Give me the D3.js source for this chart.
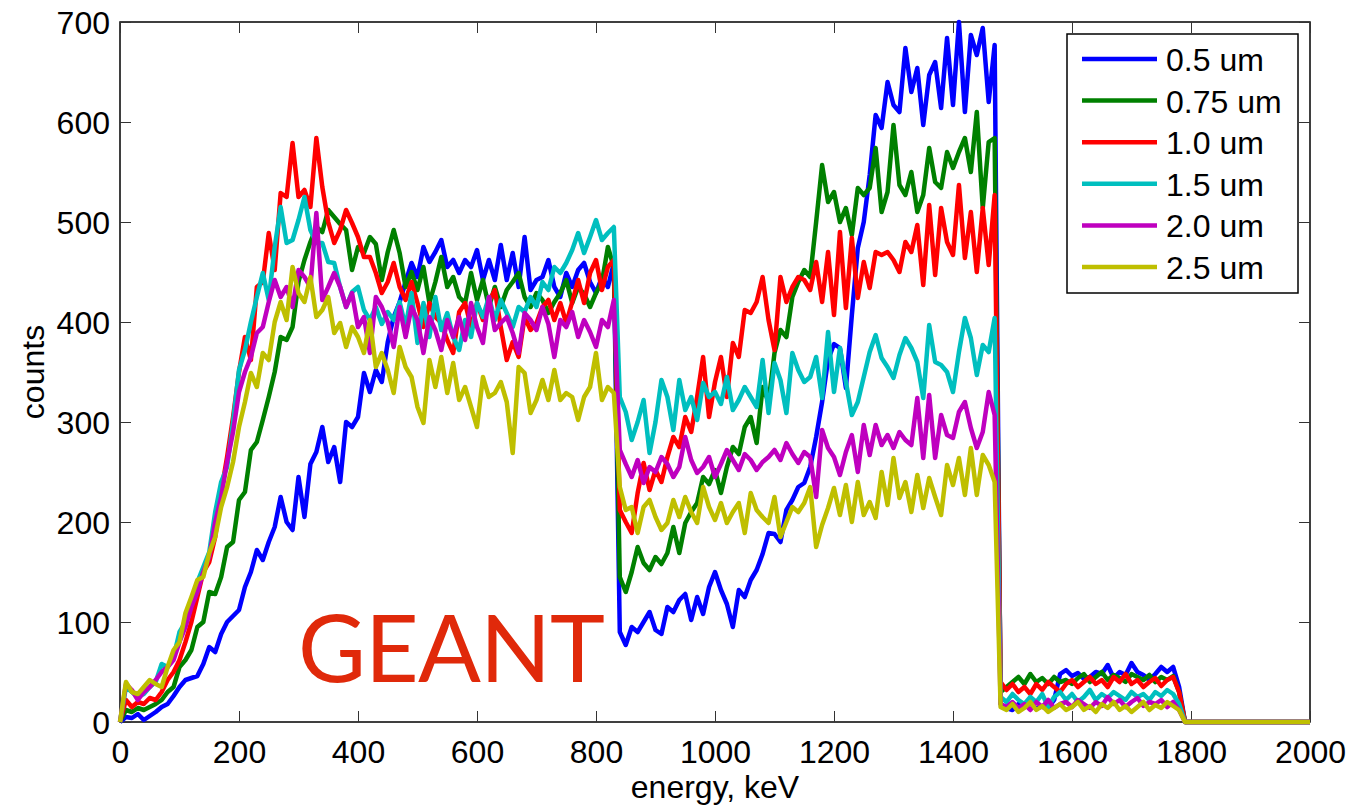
<!DOCTYPE html>
<html>
<head>
<meta charset="utf-8">
<script src="https://cdn.jsdelivr.net/npm/d3@7"></script>
<style>
  body { margin: 0; background: #fff; }
  svg { font-family: "Liberation Sans", Arial, Helvetica, sans-serif; }
</style>
</head>
<body>
<div id="chart"></div>
<script>
// spectra, one value per 10 keV bin starting at 0 keV (last bin 1780 keV)
var binWidth = 10;

var counts05 = [
  0, 5, 4, 8, 2, 6, 10, 15, 18, 26,
  35, 42, 44, 46, 58, 75, 70, 88, 100, 106,
  112, 135, 150, 172, 162, 180, 195, 225, 200, 192,
  245, 205, 258, 270, 295, 260, 275, 240, 300, 295,
  305, 349, 330, 352, 340, 380, 405, 420, 440, 459,
  445, 475, 460, 470, 482, 455, 462, 449, 462, 455,
  472, 442, 462, 442, 477, 442, 469, 435, 485, 432,
  442, 445, 462, 435, 425, 449, 435, 452, 459, 440,
  429, 445, 435, 459, 90, 77, 95, 90, 100, 110,
  92, 88, 115, 110, 122, 128, 102, 125, 108, 135,
  150, 132, 118, 95, 132, 125, 142, 152, 168, 189,
  188, 180, 212, 222, 235, 239, 255, 285, 320, 362,
  378, 374, 334, 407, 474, 500, 547, 607, 594, 640,
  617, 610, 674, 630, 654, 597, 647, 660, 614, 684,
  617, 700, 610, 687, 667, 694, 620, 677, 18, 14,
  12, 18, 15, 20, 13, 16, 14, 22, 48, 52,
  46, 49, 43, 45, 50, 48, 57, 44, 50, 47,
  59, 50, 47, 42, 48, 55, 50, 55, 35
];

var counts075 = [
  0, 12, 10, 14, 12, 15, 18, 22, 30, 35,
  55, 62, 72, 95, 100, 130, 128, 145, 175, 180,
  222, 230, 272, 280, 302, 325, 350, 385, 382, 395,
  440, 462, 480, 495, 490, 512, 505, 498, 492, 452,
  475, 469, 485, 478, 442, 470, 492, 469, 435, 450,
  432, 455, 419, 440, 465, 435, 445, 425, 419, 449,
  422, 442, 415, 435, 415, 432, 440, 449, 425, 415,
  429, 422, 409, 420, 429, 442, 419, 435, 428, 415,
  429, 440, 475, 455, 145, 130, 150, 175, 159, 152,
  165, 158, 169, 195, 169, 199, 210, 219, 245, 238,
  252, 229, 255, 275, 268, 295, 305, 279, 335, 320,
  369, 392, 385, 425, 440, 452, 445, 500, 557, 520,
  530, 500, 514, 487, 534, 527, 534, 574, 510, 530,
  597, 537, 527, 550, 510, 527, 574, 540, 534, 570,
  554, 570, 584, 550, 610, 514, 580, 584, 30, 35,
  40, 45, 38, 48, 40, 44, 38, 45, 40, 42,
  38, 44, 48, 40, 45, 50, 42, 47, 44, 40,
  48, 45, 42, 47, 40, 45, 42, 46, 30
];

var counts10 = [
  0, 22, 15, 20, 18, 24, 22, 30, 42, 50,
  62, 80, 100, 125, 150, 160, 185, 230, 265, 305,
  350, 385, 362, 435, 440, 489, 452, 529, 525, 579,
  525, 532, 515, 584, 535, 500, 479, 492, 512, 499,
  485, 465, 465, 449, 429, 440, 459, 435, 422, 440,
  419, 395, 419, 405, 399, 382, 369, 410, 419, 395,
  419, 402, 420, 432, 395, 362, 380, 365, 405, 392,
  399, 415, 422, 402, 419, 399, 420, 442, 419, 449,
  462, 432, 455, 462, 212, 200, 189, 229, 259, 232,
  252, 240, 265, 285, 275, 305, 290, 325, 365, 305,
  340, 365, 325, 379, 365, 412, 409, 420, 445, 402,
  372, 445, 420, 435, 445, 442, 432, 460, 420, 470,
  407, 490, 414, 484, 424, 460, 434, 470, 467, 470,
  462, 450, 480, 470, 497, 437, 517, 447, 514, 480,
  467, 537, 464, 510, 450, 514, 457, 527, 40, 32,
  38, 30, 35, 28, 38, 32, 40, 35, 30, 38,
  42, 35, 40, 45, 38, 42, 35, 45, 40, 48,
  38, 42, 35, 40, 44, 36, 42, 45, 30
];

var counts15 = [
  0, 35, 30, 25, 28, 35, 40, 58, 55, 65,
  90, 100, 120, 140, 155, 170, 210, 240, 255, 300,
  352, 372, 400, 425, 449, 422, 475, 515, 479, 482,
  502, 525, 492, 479, 479, 460, 459, 435, 415, 430,
  435, 412, 402, 415, 398, 410, 402, 420, 395, 429,
  379, 419, 385, 425, 392, 409, 385, 372, 402, 385,
  419, 405, 425, 402, 422, 409, 395, 415, 410, 425,
  415, 440, 432, 455, 449, 459, 472, 489, 469, 485,
  502, 482, 489, 495, 325, 310, 282, 300, 322, 269,
  300, 342, 325, 292, 342, 312, 325, 302, 339, 325,
  330, 318, 345, 312, 322, 335, 325, 315, 362, 309,
  359, 342, 309, 369, 352, 340, 345, 365, 324, 390,
  330, 374, 340, 307, 320, 345, 370, 387, 364, 355,
  344, 367, 384, 374, 360, 324, 397, 360, 357, 350,
  330, 370, 404, 384, 347, 377, 370, 404, 25, 20,
  28, 22, 18, 25, 20, 28, 15, 25, 30, 22,
  28, 20, 25, 32, 22, 28, 24, 30, 26, 22,
  30, 25, 28, 22, 30, 26, 32, 28, 18
];

var counts20 = [
  0, 38, 32, 22, 30, 35, 42, 50, 55, 62,
  80, 95, 115, 130, 150, 165, 200, 225, 260, 290,
  330, 350, 365, 389, 395, 420, 442, 425, 435, 415,
  452, 445, 435, 509, 422, 435, 449, 435, 415, 429,
  395, 405, 369, 425, 415, 400, 375, 415, 385, 415,
  402, 369, 405, 392, 372, 402, 385, 405, 382, 419,
  395, 379, 425, 392, 399, 405, 389, 369, 409, 402,
  392, 415, 398, 365, 402, 395, 410, 385, 402, 390,
  375, 402, 395, 422, 272, 258, 245, 262, 239, 255,
  250, 265, 258, 245, 255, 285, 262, 249, 255, 265,
  245, 258, 272, 262, 252, 268, 262, 252, 260, 265,
  272, 262, 279, 268, 259, 270, 265, 225, 292, 274,
  265, 247, 270, 287, 250, 297, 267, 297, 277, 287,
  274, 290, 282, 277, 324, 264, 327, 264, 307, 287,
  284, 310, 320, 294, 274, 290, 330, 307, 18, 15,
  20, 14, 18, 12, 20, 15, 22, 14, 18, 20,
  15, 22, 18, 14, 20, 16, 25, 18, 22, 15,
  20, 24, 16, 20, 18, 22, 15, 20, 12
];

var counts25 = [
  0, 40, 30, 28, 35, 42, 38, 35, 55, 72,
  80, 109, 125, 142, 145, 169, 185, 215, 235, 260,
  295, 320, 349, 335, 369, 362, 400, 420, 402, 455,
  429, 420, 445, 405, 412, 425, 389, 399, 375, 395,
  385, 369, 402, 355, 369, 352, 329, 375, 355, 345,
  315, 299, 362, 335, 365, 329, 359, 322, 335, 315,
  295, 345, 325, 329, 340, 320, 269, 355, 349, 309,
  322, 342, 322, 352, 322, 329, 325, 302, 325, 335,
  369, 322, 335, 329, 235, 212, 215, 189, 215, 222,
  205, 192, 199, 222, 205, 225, 210, 199, 235, 215,
  202, 219, 199, 210, 219, 189, 229, 212, 205, 199,
  225, 185, 200, 215, 210, 219, 235, 175, 197, 214,
  234, 207, 237, 200, 240, 207, 220, 204, 250, 217,
  264, 224, 240, 210, 247, 214, 244, 225, 207, 257,
  237, 264, 227, 274, 227, 267, 257, 240, 15, 12,
  18, 10, 14, 20, 12, 16, 10, 14, 18, 12,
  15, 20, 12, 16, 10, 18, 14, 20, 12, 16,
  10, 15, 20, 12, 17, 14, 20, 16, 12
];

// above the cut-off every spectrum is empty
var emptyEnergy = [1790, 2000];

var seriesLabels = ["0.5 um", "0.75 um", "1.0 um", "1.5 um", "2.0 um", "2.5 um"];
var seriesCounts = [counts05, counts075, counts10, counts15, counts20, counts25];
var colors = ["#0000ff", "#008000", "#ff0000", "#00bfbf", "#bf00bf", "#bfbf00"];

var xTicks = [0, 200, 400, 600, 800, 1000, 1200, 1400, 1600, 1800, 2000];
var yTicks = [0, 100, 200, 300, 400, 500, 600, 700];

var svgWidth = 1361;
var svgHeight = 810;

var margin = { top: 22, right: 51, bottom: 88, left: 120 };

var width = svgWidth - margin.left - margin.right;
var height = svgHeight - margin.top - margin.bottom;

var svg = d3.select("#chart")
  .append("svg")
  .attr("width", svgWidth)
  .attr("height", svgHeight);

var chartGroup = svg.append("g")
  .attr("transform", `translate(${margin.left}, ${margin.top})`);

var xLinearScale = d3.scaleLinear().domain([0, 2000]).range([0, width]);
var yLinearScale = d3.scaleLinear().domain([0, 700]).range([height, 0]);

// axes box
chartGroup.append("rect")
  .attr("width", width)
  .attr("height", height)
  .attr("fill", "none")
  .attr("stroke", "#000")
  .attr("stroke-width", 1.5);

function styleAxis(g) {
  g.select(".domain").remove();
  g.selectAll(".tick line").attr("stroke", "#333").attr("stroke-width", 1);
  g.selectAll(".tick text").attr("fill", "#000").style("font-size", "32px");
}

chartGroup.append("g")
  .attr("transform", `translate(0, ${height})`)
  .call(d3.axisBottom(xLinearScale).tickValues(xTicks).tickFormat(d3.format("d"))
    .tickSize(-11).tickPadding(18))
  .call(styleAxis);

chartGroup.append("g")
  .call(d3.axisTop(xLinearScale).tickValues(xTicks).tickSize(-11).tickFormat(""))
  .call(styleAxis);

chartGroup.append("g")
  .call(d3.axisLeft(yLinearScale).tickValues(yTicks).tickFormat(d3.format("d"))
    .tickSize(-11).tickPadding(10))
  .call(styleAxis)
  .selectAll(".tick text").attr("dy", "0.36em");

chartGroup.append("g")
  .attr("transform", `translate(${width}, 0)`)
  .call(d3.axisRight(yLinearScale).tickValues(yTicks).tickSize(-11).tickFormat(""))
  .call(styleAxis);

// spectra
var line = d3.line()
  .x(d => xLinearScale(d.e))
  .y(d => yLinearScale(d.c));

seriesCounts.forEach(function(counts, k) {
  var pts = counts.map((c, i) => ({ e: i * binWidth, c: c }))
    .concat(emptyEnergy.map(e => ({ e: e, c: 0 })));
  chartGroup.append("path")
    .datum(pts)
    .attr("fill", "none")
    .attr("stroke", colors[k])
    .attr("stroke-width", 4.5)
    .attr("stroke-linejoin", "round")
    .attr("d", line);
});

// axis labels
chartGroup.append("text")
  .attr("transform", "rotate(-90)")
  .attr("x", -height / 2)
  .attr("y", 44 - margin.left)
  .attr("text-anchor", "middle")
  .style("font-size", "32px")
  .text("counts");

chartGroup.append("text")
  .attr("x", width / 2)
  .attr("y", height + 76)
  .attr("text-anchor", "middle")
  .style("font-size", "32px")
  .text("energy, keV");

// GEANT stamp
chartGroup.append("text")
  .attr("x", 178)
  .attr("y", 660)
  .attr("fill", "#e0290a")
  .attr("textLength", 307)
  .style("font-family", "Lato, 'Open Sans', sans-serif")
  .style("font-size", "93px")
  .text("GEANT");

// legend
var legend = chartGroup.append("g")
  .attr("transform", "translate(947, 12)");

legend.append("rect")
  .attr("width", 231)
  .attr("height", 259)
  .attr("fill", "#fff")
  .attr("stroke", "#000")
  .attr("stroke-width", 1.5);

var items = legend.selectAll(".item")
  .data(seriesLabels)
  .enter()
  .append("g")
  .attr("transform", (d, i) => `translate(0, ${25 + i * 41.6})`);

items.append("line")
  .attr("x1", 15)
  .attr("x2", 90)
  .attr("stroke", (d, i) => colors[i])
  .attr("stroke-width", 4.5);

items.append("text")
  .attr("x", 99)
  .attr("dy", 12)
  .style("font-size", "32px")
  .text(d => d);
</script>
</body>
</html>
